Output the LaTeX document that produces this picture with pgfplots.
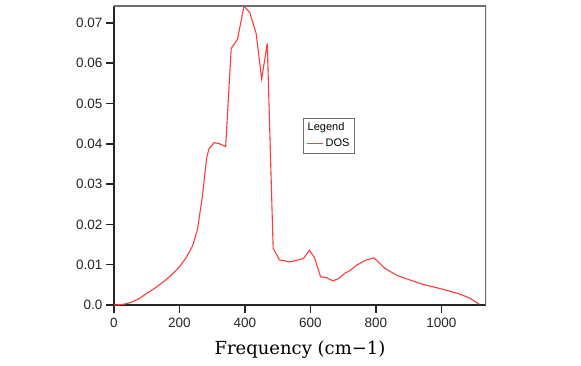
\documentclass[border=0pt]{standalone}
\usepackage{pgfplots}
\pgfplotsset{compat=1.18}
\usepackage{fontspec}
\setmainfont{Liberation Sans}
\newfontfamily\labelfont{DejaVu Serif}
\definecolor{dosred}{RGB}{255,60,60}
\definecolor{framegray}{RGB}{110,110,110}
\begin{document}
\begin{tikzpicture}[x=1pt,y=1pt]
\useasboundingbox (0,0) rectangle (581,365);
\begin{axis}[
  at={(114pt,60pt)}, anchor=south west,
  width=372pt, height=299pt, scale only axis,
  xmin=0, xmax=1136, ymin=0, ymax=0.0742,
  axis x line*=bottom, axis y line*=left,
  axis line style={black!85, line width=1.8pt, -},
  xtick={0,200,400,600,800,1000},
  xticklabels={0,200,400,600,800,1000},
  ytick={0,0.01,0.02,0.03,0.04,0.05,0.06,0.07},
  yticklabels={0.0,0.01,0.02,0.03,0.04,0.05,0.06,0.07},
  tick align=outside,
  major tick length=8pt,
  tick style={black!85, line width=1.5pt},
  ticklabel style={font=\fontsize{13.5}{15}\selectfont, text=black!85},
  xticklabel style={yshift=-2pt},
  /pgf/number format/assume math mode=true,
  xlabel={\labelfont\fontsize{18}{20}\selectfont Frequency (cm−1)},
  xlabel style={yshift=-6pt, text=black},
  legend style={at={(rel axis cs:0.508,0.627)}, anchor=north west,
    draw=framegray, line width=1.2pt, font=\fontsize{11}{12}\selectfont,
    inner xsep=3pt, inner ysep=3pt, row sep=3pt},
  legend cell align=left,
  legend image code/.code={\draw[#1] (0cm,0cm) -- (16pt,0cm);},
]
\addlegendimage{legend image code/.code={\node[overlay, anchor=west, inner sep=0pt, font=\fontsize{11}{12}\selectfont] at (0pt,0pt) {Legend};}}
\addlegendentry{\phantom{D}}
\addplot[dosred, line width=1.1pt] coordinates {
(0,0) (25,0.0001) (50,0.0006) (75,0.0015) (100,0.0029) (125,0.0042)
(150,0.0057) (175,0.0074) (200,0.0095) (220,0.0117) (240,0.0147)
(255,0.0188) (270,0.0270) (283,0.0365) (290,0.0388) (306,0.0403)
(323,0.0400) (341,0.0393) (358,0.0637) (377,0.0659) (397,0.0742)
(415,0.0725) (434,0.0674) (451,0.0561) (468,0.0649) (486,0.0141)
(505,0.0112) (537,0.0107) (578,0.0115) (597,0.0136) (612,0.0118)
(631,0.0070) (649,0.0068) (668,0.0060) (685,0.0065) (705,0.0079)
(720,0.0085) (741,0.0099) (771,0.0112) (794,0.0117) (807,0.0107)
(827,0.0091) (863,0.0074) (904,0.0062) (944,0.0051) (1005,0.0039)
(1056,0.0027) (1087,0.0017) (1115,0.0002)
};
\addlegendentry{DOS}
\draw[framegray, line width=1.5pt] (rel axis cs:0,1) -- (rel axis cs:1,1) -- (rel axis cs:1,0);
\end{axis}
\end{tikzpicture}
\end{document}
